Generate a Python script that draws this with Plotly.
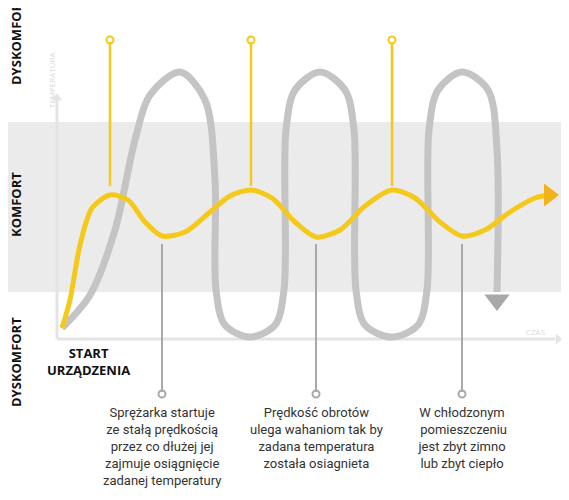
import plotly.graph_objects as go

# schematic curve points (pixel space of the illustration)
yellow_x = [62, 70, 80, 92, 110, 128, 145, 162, 185, 210, 230, 251, 272, 295, 316, 340, 365, 392, 415, 440, 462, 485, 510, 535, 548]
yellow_y = [328, 300, 245, 208, 195, 200, 222, 236, 232, 212, 196, 190, 198, 222, 237, 230, 206, 190, 198, 222, 236, 230, 212, 198, 195]
grey_x = [62, 90, 115, 135, 150, 180, 205, 215, 216, 225, 250, 275, 284, 286, 295, 320, 345, 354, 356, 365, 392, 418, 427, 429, 438, 462, 488, 497, 497]
grey_y = [328, 295, 230, 140, 95, 72, 100, 180, 290, 325, 337, 325, 290, 130, 90, 72, 90, 130, 290, 325, 337, 325, 290, 130, 90, 72, 90, 150, 292]
top_marks_x = [110, 251, 392]
bottom_marks_x = [162, 316, 462]
top_texts = ["osiąga  zadaną<br>temperaturę szybciej", "została osiągnięta", "poziom komfortu<br>z tolerancją 5%"]
top_text_x = [108, 250, 398]
bottom_texts = ["Sprężarka startuje<br>ze stałą prędkością<br>przez co dłużej jej<br>zajmuje osiągnięcie<br>zadanej temperatury",
                "Prędkość obrotów<br>ulega wahaniom tak by<br>zadana temperatura<br>została osiagnieta",
                "W chłodzonym<br> pomieszczeniu<br>jest zbyt zimno<br>lub zbyt ciepło"]
side_labels = ["DYSKOMFORT", "KOMFORT", "DYSKOMFORT"]
side_label_y = [40, 205, 362]

OX, OY = 8, 8  # page body margin compensation

fig = go.Figure()
yel = "#f4c91a"
gry = "#c4c4c4"
shapes = [dict(type="rect", x0=-10, x1=600, y0=122, y1=292, fillcolor="#ebebeb", line_width=0, layer="below"),
          dict(type="line", x0=57, x1=57, y0=339, y1=100, line=dict(color="#e4e4e4", width=3), layer="below"),
          dict(type="line", x0=57, x1=555, y0=339, y1=339, line=dict(color="#e4e4e4", width=3), layer="below")]
for x in top_marks_x:
    shapes.append(dict(type="line", x0=x, x1=x, y0=42, y1=186, line=dict(color=yel, width=2.5)))
for x in bottom_marks_x:
    shapes.append(dict(type="line", x0=x, x1=x, y0=244, y1=392, line=dict(color="#a9a9a9", width=2)))
fig.update_layout(shapes=shapes)

fig.add_trace(go.Scatter(x=grey_x, y=grey_y, mode="lines", line=dict(color=gry, width=7, shape="spline", smoothing=0.9)))
fig.add_trace(go.Scatter(x=[497], y=[300], mode="markers", marker=dict(symbol="triangle-down", size=22, color="#a8a8a8")))
fig.add_trace(go.Scatter(x=yellow_x, y=yellow_y, mode="lines", line=dict(color=yel, width=5, shape="spline", smoothing=0.8)))
fig.add_trace(go.Scatter(x=[549], y=[195], mode="markers", marker=dict(symbol="triangle-right", size=20, color="#f2b21a")))
fig.add_trace(go.Scatter(x=top_marks_x, y=[40]*3, mode="markers", marker=dict(size=7, color="white", line=dict(color=yel, width=2))))
fig.add_trace(go.Scatter(x=bottom_marks_x, y=[394]*3, mode="markers", marker=dict(size=7, color="white", line=dict(color="#a9a9a9", width=2))))
fig.add_trace(go.Scatter(x=[57], y=[98], mode="markers", marker=dict(symbol="triangle-up", size=9, color="#e4e4e4")))
fig.add_trace(go.Scatter(x=[558], y=[339], mode="markers", marker=dict(symbol="triangle-right", size=9, color="#e4e4e4")))

ann = []
f = dict(family="Roboto", size=13, color="#333")
for t, x in zip(top_texts, top_text_x):
    ann.append(dict(x=x, y=0, text=t, showarrow=False, xanchor="center", yanchor="top", font=f))
for t, x in zip(bottom_texts, bottom_marks_x):
    ann.append(dict(x=x, y=403, text=t, showarrow=False, xanchor="center", yanchor="top", font=f))
for t, y in zip(side_labels, side_label_y):
    ann.append(dict(x=16, y=y, text="<b>" + t + "</b>", textangle=-90, showarrow=False, font=dict(family="Open Sans", size=13, color="#111")))
ann.append(dict(x=88, y=361, text="<b>START<br>URZĄDZENIA</b>", showarrow=False, font=dict(family="Open Sans", size=13, color="#111")))
ann.append(dict(x=51, y=80, text="TEMPERATURA", textangle=-90, showarrow=False, font=dict(family="Open Sans", size=8, color="#dadada")))
ann.append(dict(x=535, y=331, text="CZAS", showarrow=False, font=dict(family="Open Sans", size=8, color="#dadada")))
fig.update_layout(annotations=ann, width=569, height=500, margin=dict(l=0, r=0, t=0, b=0),
                  paper_bgcolor="white", plot_bgcolor="white", showlegend=False,
                  xaxis=dict(range=[OX, 569 + OX], visible=False, fixedrange=True),
                  yaxis=dict(range=[500 + OY, OY], visible=False, fixedrange=True))
fig.write_html("out.html")
